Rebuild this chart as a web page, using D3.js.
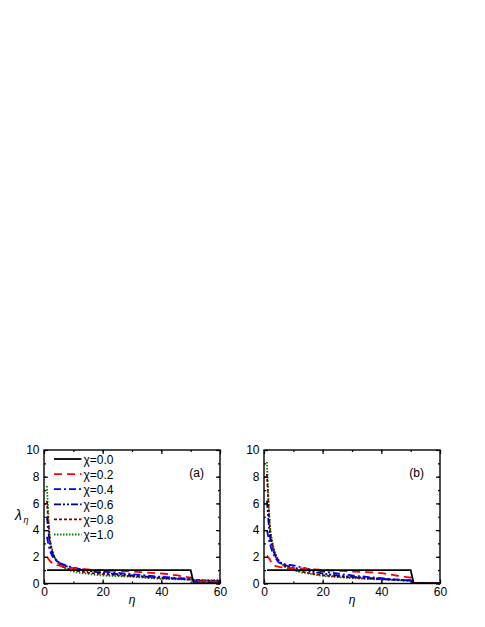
<!DOCTYPE html>
<html>
  <head>
    <meta charset="UTF-8">
    <title>lambda eta</title>
    <style>
      html, body { margin: 0; padding: 0; background: #fff; }
      text { font-family: "Liberation Sans", Arial, sans-serif; font-size: 12px; fill: #000; }
      .frame { fill: none; stroke: #000; stroke-width: 1.4px; }
      .tick line { stroke: #000; stroke-width: 1.2px; }
      .curve { fill: none; stroke-width: 1.8px; }
    </style>
  </head>
  <body>
    <svg width="485" height="627"></svg>
    <script src="https://cdn.jsdelivr.net/npm/d3@7"></script>
    <script>
      // eta sample points
      const eta = [1, 2, 3, 4, 5, 7, 10, 15, 20, 25, 30, 35, 40, 45, 48, 50, 51, 55, 60]
      const chiLabels = ['χ=0.0', 'χ=0.2', 'χ=0.4', 'χ=0.6', 'χ=0.8', 'χ=1.0']

      // panel (a) values
      const a00 = [1, 1, 1, 1, 1, 1, 1, 1, 1, 1, 1, 1, 1, 1, 1, 1, 0.05, 0.02, 0]
      const a02 = [2.0, 1.7, 1.5, 1.4, 1.35, 1.25, 1.15, 1.05, 1.0, 0.95, 0.9, 0.82, 0.75, 0.62, 0.5, 0.45, 0.2, 0.15, 0.1]
      const a04 = [3.5, 2.5, 2.0, 1.8, 1.6, 1.4, 1.2, 1.0, 0.9, 0.8, 0.7, 0.6, 0.5, 0.42, 0.38, 0.35, 0.2, 0.12, 0.05]
      const a06 = [5.0, 3.0, 2.2, 1.8, 1.6, 1.35, 1.15, 0.95, 0.8, 0.7, 0.6, 0.52, 0.45, 0.38, 0.33, 0.3, 0.25, 0.2, 0.15]
      const a08 = [6.2, 3.3, 2.3, 1.8, 1.5, 1.2, 1.0, 0.82, 0.7, 0.62, 0.55, 0.47, 0.4, 0.35, 0.32, 0.3, 0.27, 0.23, 0.2]
      const a10 = [7.3, 3.5, 2.4, 1.8, 1.5, 1.15, 0.9, 0.72, 0.6, 0.55, 0.5, 0.42, 0.35, 0.32, 0.3, 0.3, 0.28, 0.26, 0.25]

      // panel (b)
      const b00 = [1, 1, 1, 1, 1, 1, 1, 1, 1, 1, 1, 1, 1, 1, 1, 1, 0.05, 0.02, 0]
      const b02 = [2.1, 1.8, 1.4, 1.3, 1.25, 1.2, 1.15, 1.1, 1.0, 0.95, 0.9, 0.85, 0.78, 0.6, 0.5, 0.45, 0.05, 0.03, 0.02]
      const b04 = [4.0, 3.0, 2.3, 1.9, 1.6, 1.45, 1.35, 1.1, 0.9, 0.75, 0.6, 0.5, 0.4, 0.3, 0.27, 0.25, 0.05, 0.03, 0.02]
      const b06 = [6.2, 3.6, 2.6, 2.0, 1.7, 1.4, 1.2, 0.95, 0.75, 0.6, 0.5, 0.42, 0.35, 0.28, 0.25, 0.22, 0.05, 0.03, 0.02]
      const b08 = [8.2, 4.2, 2.8, 2.1, 1.7, 1.3, 1.05, 0.8, 0.62, 0.52, 0.45, 0.38, 0.32, 0.26, 0.23, 0.2, 0.05, 0.03, 0.02]
      const b10 = [9.1, 4.5, 3.0, 2.2, 1.75, 1.3, 1.0, 0.75, 0.58, 0.48, 0.4, 0.34, 0.3, 0.25, 0.22, 0.2, 0.05, 0.03, 0.02]

      const xTicks = [0, 20, 40, 60]
      const yTicks = [0, 2, 4, 6, 8, 10]

      const colors = ['#000000', '#ff0000', '#0000ff', '#000080', '#800000', '#008000']
      const dashes = [null, '8,5', '7,3,2,3', '7,2,2,2,2,2', '3,2', '1.5,1.5']

      const svg = d3.select('svg')
      svg.append('rect').attr('width', 485).attr('height', 627).attr('fill', '#fff')

      const panels = [
        { left: 44, label: '(a)', series: [a00, a02, a04, a06, a08, a10], legend: true },
        { left: 264, label: '(b)', series: [b00, b02, b04, b06, b08, b10], legend: false }
      ]
      const plotTop = 450, plotBottom = 583.5, w = 176

      panels.forEach(function (p) {
        const x = d3.scaleLinear().domain([0, 60]).range([p.left, p.left + w])
        const y = d3.scaleLinear().domain([0, 10]).range([plotBottom, plotTop])
        const g = svg.append('g')

        const line = d3.line()
          .x(function (d, i) { return x(eta[i]) })
          .y(function (d) { return y(d) })
          .curve(d3.curveMonotoneX)

        // curves, clipped to plot
        const clipId = 'clip' + p.label.replace(/\W/g, '')
        svg.append('clipPath').attr('id', clipId).append('rect')
          .attr('x', p.left).attr('y', plotTop).attr('width', w).attr('height', plotBottom - plotTop)
        const cg = g.append('g').attr('clip-path', 'url(#' + clipId + ')')
        p.series.slice().reverse().forEach(function (s, k) {
          const i = p.series.length - 1 - k
          let pathLine = line
          if (i === 0) {
            // step line for chi = 0
            pathLine = d3.line().x(function (d, j) { return x(eta[j]) }).y(function (d) { return y(d) })
          }
          cg.append('path')
            .attr('class', 'curve')
            .attr('d', pathLine(s))
            .attr('stroke', colors[i])
            .attr('stroke-dasharray', dashes[i])
        })

        // axes with inward ticks on all sides
        const xMinor = d3.range(0, 61, 10)
        const yMinor = d3.range(0, 11, 1)
        const noDomain = function (a) { a.select('.domain').remove() }
        const styleText = function (a) {
          noDomain(a)
          a.selectAll('text').attr('font-size', 12).attr('font-family', 'Liberation Sans, Arial')
        }
        g.append('g').attr('transform', 'translate(0,' + plotBottom + ')')
          .call(d3.axisBottom(x).tickValues(xMinor).tickSize(-2).tickFormat('')).call(noDomain)
        g.append('g').attr('transform', 'translate(0,' + plotBottom + ')')
          .call(d3.axisBottom(x).tickValues(xTicks).tickSize(-4).tickPadding(4).tickFormat(d3.format('d')))
          .call(styleText)
        g.append('g').attr('transform', 'translate(0,' + plotTop + ')')
          .call(d3.axisTop(x).tickValues(xMinor).tickSize(-2).tickFormat('')).call(noDomain)
        g.append('g').attr('transform', 'translate(0,' + plotTop + ')')
          .call(d3.axisTop(x).tickValues(xTicks).tickSize(-4).tickFormat('')).call(noDomain)
        g.append('g').attr('transform', 'translate(' + p.left + ',0)')
          .call(d3.axisLeft(y).tickValues(yMinor).tickSize(-2).tickFormat('')).call(noDomain)
        g.append('g').attr('transform', 'translate(' + p.left + ',0)')
          .call(d3.axisLeft(y).tickValues(yTicks).tickSize(-4).tickPadding(4.5).tickFormat(d3.format('d')))
          .call(styleText)
        g.append('g').attr('transform', 'translate(' + (p.left + w) + ',0)')
          .call(d3.axisRight(y).tickValues(yMinor).tickSize(-2).tickFormat('')).call(noDomain)
        g.append('g').attr('transform', 'translate(' + (p.left + w) + ',0)')
          .call(d3.axisRight(y).tickValues(yTicks).tickSize(-4).tickFormat('')).call(noDomain)

        g.append('rect').attr('class', 'frame')
          .attr('x', p.left).attr('y', plotTop).attr('width', w).attr('height', plotBottom - plotTop)

        // x label
        g.append('text')
          .attr('x', p.left + w / 2).attr('y', 604)
          .attr('text-anchor', 'middle')
          .attr('font-style', 'italic').attr('font-size', 15)
          .attr('font-family', 'DejaVu Serif, serif')
          .text('η')

        // panel label
        g.append('text')
          .attr('x', p.left + w - 16).attr('y', 477)
          .attr('text-anchor', 'end')
          .attr('font-size', 12)
          .text(p.label)

        if (p.legend) {
          const lg = g.append('g')
          chiLabels.forEach(function (lab, i) {
            const yy = 459 + i * 15.1
            lg.append('line')
              .attr('x1', p.left + 10).attr('x2', p.left + 37.5)
              .attr('y1', yy).attr('y2', yy)
              .attr('stroke', colors[i]).attr('stroke-width', 1.8)
              .attr('stroke-dasharray', dashes[i])
            lg.append('text')
              .attr('x', p.left + 39.5).attr('y', yy + 4.5)
              .attr('font-size', 12)
              .text(lab)
          })
        }
      })

      // y label lambda_eta
      const yl = svg.append('text').attr('x', 15).attr('y', 520)
        .attr('font-family', 'DejaVu Serif, serif').attr('font-style', 'italic')
      yl.append('tspan').attr('font-size', 14).text('λ')
      yl.append('tspan').attr('font-size', 9).attr('dy', 3).attr('dx', 1.5).text('η')
    </script>
  </body>
</html>
